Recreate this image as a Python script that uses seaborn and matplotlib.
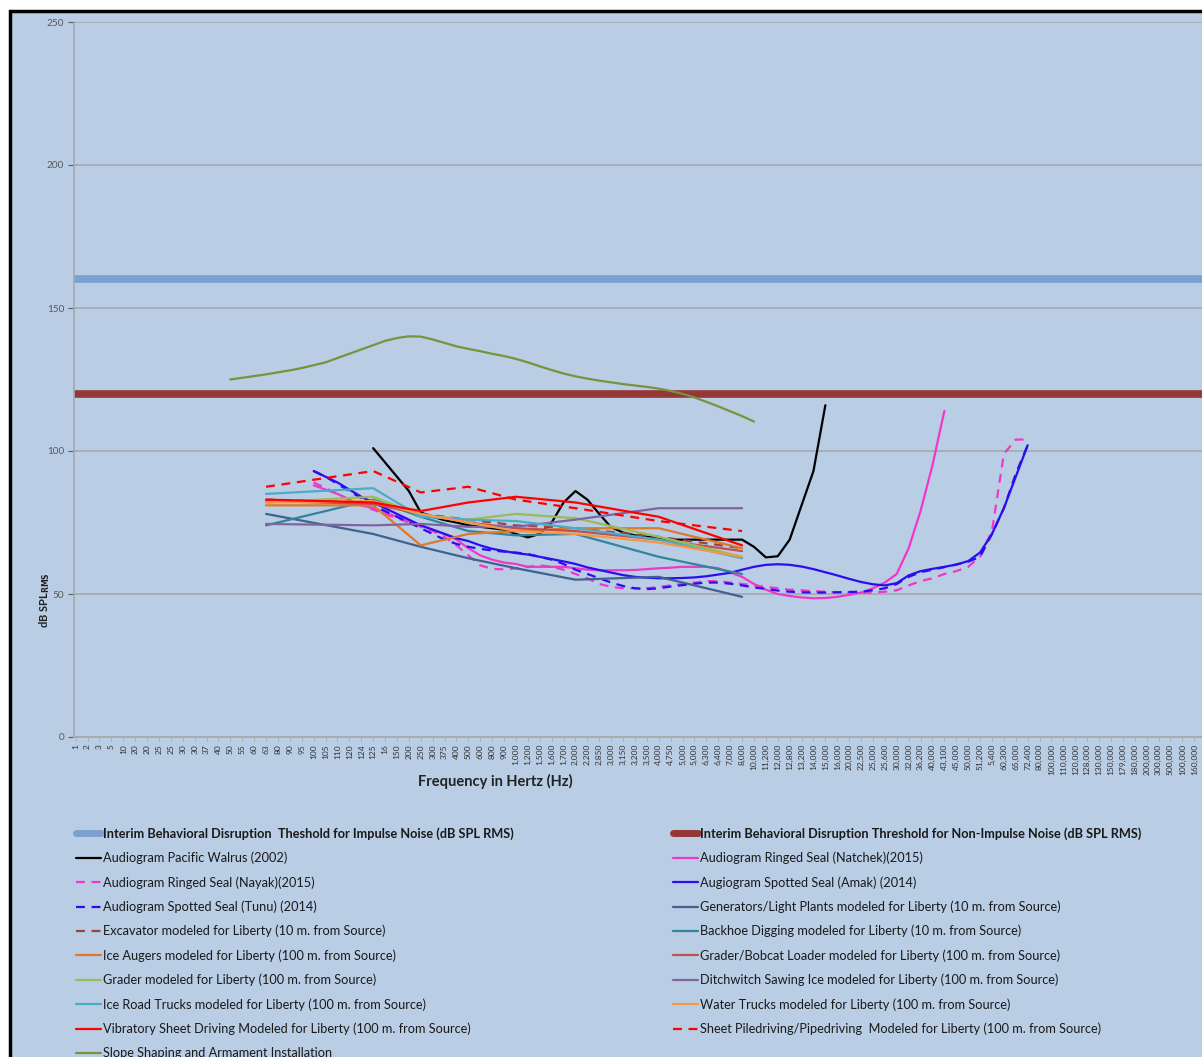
import numpy as np
import pandas as pd
import matplotlib
matplotlib.use("Agg")
import matplotlib.pyplot as plt
from matplotlib.lines import Line2D
from matplotlib.patches import Rectangle
import seaborn as sns

# ---------------- category axis (frequency labels, Hz) ----------------
freq_labels = ["1", "2", "3", "5", "10", "20", "20", "25", "25", "30", "30", "37", "40", "50", "55",
               "60", "63", "80", "90", "95", "100", "105", "110", "120", "124", "125", "16", "150",
               "200", "250", "300", "375", "400", "500", "600", "800", "900", "1,000", "1,200",
               "1,500", "1,600", "1,700", "2,000", "2,200", "2,850", "3,000", "3,150", "3,200",
               "3,500", "4,000", "4,750", "5,000", "5,000", "6,300", "6,400", "7,000", "8,000",
               "10,000", "11,200", "12,000", "12,800", "13,200", "14,000", "15,000", "16,000",
               "20,000", "22,500", "25,000", "25,600", "30,000", "32,000", "36,200", "40,000",
               "43,100", "45,000", "50,000", "51,200", "5,400", "60,300", "65,000", "72,400",
               "80,000", "100,000", "110,000", "120,000", "128,000", "130,000", "150,000",
               "179,000", "180,000", "200,000", "300,000", "500,000", "100,000", "160,000"]

# ---------------- thresholds (dB SPL RMS) ----------------
impulse_threshold = 160
non_impulse_threshold = 120

# ---------------- audiograms: first category index + values ----------------
walrus_start = 25
walrus_db = [101, 96, 91, 86, 78.5, 77, 75.8, 75, 74, 73.5, 73, 72.5, 71, 69.8, 71, 75, 82, 86,
             83, 78, 73.3, 71.5, 70.5, 70, 69.5, 69, 69, 69, 69, 69, 69, 69, 66.5, 62.8, 63.2, 69,
             81, 93, 116]

natchek_start = 20
natchek_db = [88, 86.5, 85, 83, 81, 80, 78.5, 77, 75.5, 74, 72.5, 71, 69, 66, 63.5, 62, 61, 60.5,
              59.5, 59.5, 59.5, 59.5, 59, 58.5, 58.3, 58.3, 58.3, 58.4, 58.7, 59, 59.2, 59.5,
              59.5, 59.5, 59, 57.5, 56, 53.5, 51.5, 50, 49.3, 48.8, 48.5, 48.6, 49, 49.7, 50.5,
              52, 54, 57, 66, 79, 95, 114]

nayak_start = 20
nayak_db = [89, 87, 85, 83, 81, 79.5, 78, 76.5, 75, 73.5, 72, 70, 67, 63.5, 60, 58.8, 58.6, 59,
            59.5, 60, 59.5, 58.5, 57, 55.5, 53.5, 52.5, 52, 52, 52, 52.5, 53, 53.5, 54, 54.5,
            54.5, 54, 53.5, 53, 52.5, 52, 51.5, 51.3, 51, 50.8, 50.6, 50.5, 50.4, 50.5, 50.8,
            51.3, 53, 54.5, 55.5, 57, 58, 59.5, 63, 72, 99, 104, 104]

amak_start = 20
amak_db = [93, 91, 89, 86.5, 84, 82, 80, 78, 76, 74, 72.5, 71, 69.5, 68.5, 67, 65.8, 65, 64.3,
           63.8, 63, 62.2, 61.4, 60.5, 59.3, 58.4, 57.5, 56.6, 56, 55.7, 55.5, 55.5, 55.6, 55.8,
           56.2, 56.8, 57.4, 58.5, 59.5, 60.2, 60.4, 60.2, 59.6, 58.7, 57.6, 56.5, 55.3, 54.2,
           53.4, 53, 53.8, 56.5, 58, 58.8, 59.5, 60.3, 61.5, 64.5, 71, 80, 91, 102]

tunu_start = 20
tunu_db = [93, 91, 88.5, 86, 83.5, 81, 79, 77, 75, 73, 71, 69, 67.5, 66.5, 65.8, 65.2, 64.8, 64.5,
           64, 63, 62, 60.5, 58.5, 57, 55.5, 54, 52.8, 52, 51.7, 52, 52.6, 53.1, 53.6, 54, 54,
           53.6, 53, 52.3, 51.8, 51.2, 50.8, 50.6, 50.5, 50.5, 50.6, 50.7, 50.8, 51.3, 52, 53.5,
           56, 57.6, 58.5, 59.4, 60.3, 61.3, 63, 71, 80, 92, 102]

# ---------------- modelled equipment: octave bands 63 Hz .. 8 kHz ----------------
octave_idx = [16, 25, 29, 33, 37, 42, 49, 56]
generators_db = [78, 71, 66.5, 62.5, 59, 55, 56, 49]
excavator_db = [83, 82, 78, 76, 74, 73, 70, 66]
backhoe_db = [74, 83, 77, 72, 70.5, 71, 63, 57]
ice_augers_db = [81, 81, 67, 71, 72, 73, 73, 66]
bobcat_db = [82.5, 81.5, 78, 75, 73, 72, 69, 65]
grader_db = [82, 84, 77.5, 76, 78, 76.5, 70, 63]
ditchwitch_db = [74.5, 74, 74.5, 73.5, 73.5, 76, 80, 80]
ice_road_db = [85, 87, 77, 76, 75.5, 73, 69, 62.5]
water_trucks_db = [82, 82.5, 78, 75, 72, 71, 68, 63]
vibratory_db = [83, 82, 79, 82, 84, 82, 77, 67]
piledriving_db = [87.5, 93, 85.5, 87.5, 83, 80, 75.5, 72]

slope_start = 13
slope_db = [125, 125.6, 126.2, 126.8, 127.5, 128.2, 129, 130, 131, 132.5, 134, 135.5, 137, 138.5,
            139.5, 140.1, 140, 139, 137.8, 136.6, 135.7, 134.9, 134, 133.2, 132.2, 131, 129.6,
            128.3, 127.1, 126.1, 125.3, 124.6, 124, 123.4, 122.9, 122.4, 121.8, 121, 120, 118.7,
            117.2, 115.6, 113.9, 112.2, 110.3]

BG = "#B9CDE5"
GRID = "#A3A8AE"
DASH = (0, (4, 3))

sns.set_style("white")
plt.rcParams["font.family"] = ["Lato", "DejaVu Sans"]

W, H = 1202, 1057
fig = plt.figure(figsize=(W / 100, H / 100), dpi=100, facecolor="white")
fig.patches.append(Rectangle((10 / W, -0.1), 1.2, (H - 11) / H + 0.1, transform=fig.transFigure,
                             facecolor=BG, edgecolor="black", lw=2.5, zorder=-10))

ax_l, ax_r, ax_t, ax_b = 74, 1202, 22, 737
ax = fig.add_axes([ax_l / W, 1 - ax_b / H, (ax_r - ax_l) / W, (ax_b - ax_t) / H])
ax.set_facecolor(BG)

x_all = np.arange(len(freq_labels))


def run(start, values):
    return pd.DataFrame({"idx": np.arange(start, start + len(values)), "db": values})


def bands(values):
    return pd.DataFrame({"idx": octave_idx, "db": values})


series = [
    ("Audiogram Pacific Walrus (2002)", run(walrus_start, walrus_db), "#000000", "-"),
    ("Audiogram Ringed Seal (Natchek)(2015)", run(natchek_start, natchek_db), "#F038C8", "-"),
    ("Audiogram Ringed Seal (Nayak)(2015)", run(nayak_start, nayak_db), "#F038C8", DASH),
    ("Augiogram Spotted Seal (Amak) (2014)", run(amak_start, amak_db), "#2C0CF0", "-"),
    ("Audiogram Spotted Seal (Tunu) (2014)", run(tunu_start, tunu_db), "#2C0CF0", DASH),
    ("Generators/Light Plants modeled for Liberty (10 m. from Source)", bands(generators_db), "#41628F", "-"),
    ("Excavator modeled for Liberty (10 m. from Source)", bands(excavator_db), "#A0413E", DASH),
    ("Backhoe Digging modeled for Liberty (10 m. from Source)", bands(backhoe_db), "#31859C", "-"),
    ("Ice Augers modeled for Liberty (100 m. from Source)", bands(ice_augers_db), "#E0782A", "-"),
    ("Grader/Bobcat Loader modeled for Liberty (100 m. from Source)", bands(bobcat_db), "#C0504D", "-"),
    ("Grader modeled for Liberty (100 m. from Source)", bands(grader_db), "#9BBB59", "-"),
    ("Ditchwitch Sawing Ice modeled for Liberty (100 m. from Source)", bands(ditchwitch_db), "#8064A2", "-"),
    ("Ice Road Trucks modeled for Liberty (100 m. from Source)", bands(ice_road_db), "#4BACC6", "-"),
    ("Water Trucks modeled for Liberty (100 m. from Source)", bands(water_trucks_db), "#F79646", "-"),
    ("Vibratory Sheet Driving Modeled for Liberty (100 m. from Source)", bands(vibratory_db), "#FF0000", "-"),
    ("Sheet Piledriving/Pipedriving  Modeled for Liberty (100 m. from Source)", bands(piledriving_db), "#FF0000", DASH),
    ("Slope Shaping and Armament Installation", run(slope_start, slope_db), "#77933C", "-"),
]

# threshold bands across the full frequency axis
thr_imp = pd.DataFrame({"idx": [-1, len(freq_labels)], "db": [impulse_threshold] * 2})
thr_non = pd.DataFrame({"idx": [-1, len(freq_labels)], "db": [non_impulse_threshold] * 2})
sns.lineplot(data=thr_imp, x="idx", y="db", color="#7BA1D0", lw=5.5, ax=ax, legend=False)
sns.lineplot(data=thr_non, x="idx", y="db", color="#953735", lw=5.5, ax=ax, legend=False)

handles = {}
for name, df, color, ls in series:
    sns.lineplot(data=df, x="idx", y="db", color=color, lw=1.6, linestyle=ls, ax=ax,
                 legend=False, estimator=None)
    handles[name] = Line2D([], [], color=color, lw=1.6, linestyle=ls)

imp_name = "Interim Behavioral Disruption  Theshold for Impulse Noise (dB SPL RMS)"
non_name = "Interim Behavioral Disruption Threshold for Non-Impulse Noise (dB SPL RMS)"
handles[imp_name] = Line2D([], [], color="#7BA1D0", lw=5)
handles[non_name] = Line2D([], [], color="#953735", lw=5)

# axes styling
ax.set_xlim(-0.14, 94.65)
ax.set_ylim(0, 250)
ax.set_yticks([0, 50, 100, 150, 200, 250])
ax.set_xticks(x_all)
ax.set_xticklabels(freq_labels, rotation=90, fontsize=6, color="#333333")
ax.tick_params(axis="y", labelsize=7.2, colors="#595959", length=4, width=0.8, direction="out",
               left=True, pad=3)
ax.tick_params(axis="x", length=3, width=0.6, direction="out", bottom=True, pad=2,
               color=GRID)
ax.yaxis.grid(True, color=GRID, lw=1.2)
ax.xaxis.grid(False)
ax.set_axisbelow(True)
for s in ["top", "right"]:
    ax.spines[s].set_visible(False)
for s in ["left", "bottom"]:
    ax.spines[s].set_color(GRID)
    ax.spines[s].set_linewidth(1.2)

ax.set_xlabel("Frequency in Hertz (Hz)", fontsize=10.5, fontweight="bold", color="#222222")
ax.xaxis.set_label_coords((495 - ax_l) / (ax_r - ax_l), -(774 - ax_b) / (ax_b - ax_t))
ax.set_ylabel(r"dB SPL$_{\mathbf{RMS}}$", fontsize=8, fontweight="bold", color="#222222")
ax.yaxis.set_label_coords(-(ax_l - 52) / (ax_r - ax_l), (ax_b - 600) / (ax_b - ax_t))

col1 = [imp_name,
        "Audiogram Pacific Walrus (2002)",
        "Audiogram Ringed Seal (Nayak)(2015)",
        "Audiogram Spotted Seal (Tunu) (2014)",
        "Excavator modeled for Liberty (10 m. from Source)",
        "Ice Augers modeled for Liberty (100 m. from Source)",
        "Grader modeled for Liberty (100 m. from Source)",
        "Ice Road Trucks modeled for Liberty (100 m. from Source)",
        "Vibratory Sheet Driving Modeled for Liberty (100 m. from Source)",
        "Slope Shaping and Armament Installation"]
col2 = [non_name,
        "Audiogram Ringed Seal (Natchek)(2015)",
        "Augiogram Spotted Seal (Amak) (2014)",
        "Generators/Light Plants modeled for Liberty (10 m. from Source)",
        "Backhoe Digging modeled for Liberty (10 m. from Source)",
        "Grader/Bobcat Loader modeled for Liberty (100 m. from Source)",
        "Ditchwitch Sawing Ice modeled for Liberty (100 m. from Source)",
        "Water Trucks modeled for Liberty (100 m. from Source)",
        "Sheet Piledriving/Pipedriving  Modeled for Liberty (100 m. from Source)"]

leg_kw = dict(frameon=False, fontsize=9.2, handlelength=1.95, handletextpad=0.15,
              labelspacing=0.93, borderpad=0, borderaxespad=0, loc="upper left")
for names, x0 in ((col1, 76), (col2, 673)):
    leg = fig.legend([handles[n] for n in names], names,
                     bbox_to_anchor=(x0 / W, 1 - 827 / H), **leg_kw)
    for t in leg.get_texts():
        t.set_color("#1a1a1a")
    leg.get_texts()[0].set_fontweight("bold")

fig.savefig("out.png", dpi=100, facecolor=fig.get_facecolor())
